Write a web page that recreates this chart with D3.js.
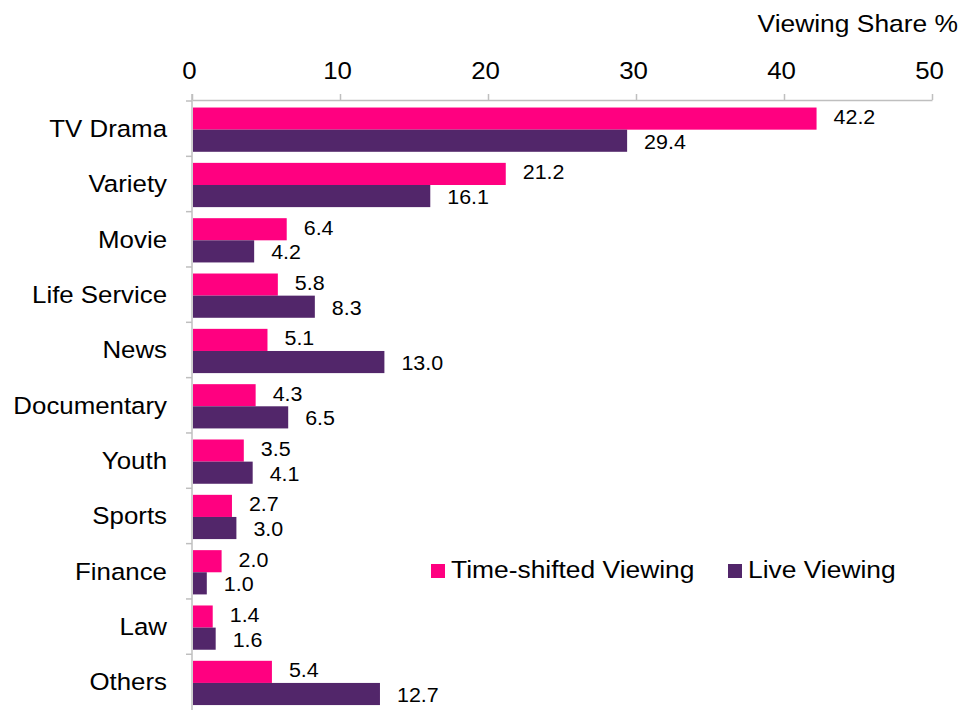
<!DOCTYPE html>
<html>
<head>
<meta charset="utf-8">
<script src="https://cdn.jsdelivr.net/npm/d3@7"></script>
<style>
  body { margin: 0; background: #fff; }
  svg text { font-family: "Liberation Sans", Arial, sans-serif; fill: #000; }
</style>
</head>
<body>
<div id="chart"></div>
<script>
const categories = ["TV Drama", "Variety", "Movie", "Life Service", "News", "Documentary",
    "Youth", "Sports", "Finance", "Law", "Others"];
const series = ["Time-shifted Viewing", "Live Viewing"];
const timeShifted = [42.2, 21.2, 6.4, 5.8, 5.1, 4.3, 3.5, 2.7, 2.0, 1.4, 5.4];
const live = [29.4, 16.1, 4.2, 8.3, 13.0, 6.5, 4.1, 3.0, 1.0, 1.6, 12.7];
const xTicks = [0, 10, 20, 30, 40, 50];
const colors = ["#ff0080", "#52266a"];

const width = 963, height = 710;
const sx = 1.1; // the original text is a little wider than it is tall

// widen text horizontally while keeping its anchor point
function stretch(sel) {
    sel.each(function () {
        const t = d3.select(this);
        const x0 = +t.attr("x") || 0;
        t.attr("x", x0 / sx).attr("transform", `scale(${sx},1)`);
    });
}

const svg = d3.select("#chart")
    .append("svg")
    .attr("width", width)
    .attr("height", height);

const x = d3.scaleLinear()
    .domain([0, 50])
    .range([192, 932]);

const y0 = d3.scaleBand()
    .domain(categories)
    .range([101, 709.6])
    .padding(0);

const y1 = d3.scaleBand()
    .domain(series)
    .range([1, y0.bandwidth() + 1])
    .paddingInner(0)
    .paddingOuter(0.25);

const color = d3.scaleOrdinal().domain(series).range(colors);

const rows = categories.map((c, i) => ({ cat: c, values: [timeShifted[i], live[i]] }));

// top axis
const xAxis = svg.append("g")
    .attr("transform", "translate(0,100)")
    .call(d3.axisTop(x).tickValues(xTicks).tickSize(6).tickSizeOuter(0).tickPadding(15));
xAxis.select(".domain").attr("stroke", "#bfbfbf").attr("stroke-width", 1.5);
xAxis.selectAll(".tick line").attr("stroke", "#bfbfbf").attr("stroke-width", 1.5);
xAxis.selectAll(".tick text")
    .attr("x", -3)
    .attr("font-size", 23.5)
    .attr("font-family", "Liberation Sans, Arial, sans-serif")
    .attr("fill", "#000")
    .call(stretch);

// left axis
const yAxis = svg.append("g")
    .attr("transform", `translate(${x(0)},0)`)
    .call(d3.axisLeft(y0).tickSize(0).tickPadding(25).tickSizeOuter(0));
yAxis.select(".domain").remove();
yAxis.selectAll(".tick text")
    .attr("font-size", 23.5)
    .attr("font-family", "Liberation Sans, Arial, sans-serif")
    .attr("fill", "#000")
    .attr("dy", "0.36em")
    .call(stretch);

svg.append("line")
    .attr("x1", x(0)).attr("x2", x(0))
    .attr("y1", 94).attr("y2", height)
    .attr("stroke", "#bfbfbf").attr("stroke-width", 1.5);

svg.append("g")
    .selectAll("line")
    .data(categories)
    .join("line")
    .attr("x1", x(0) - 6).attr("x2", x(0))
    .attr("y1", d => y0(d)).attr("y2", d => y0(d))
    .attr("stroke", "#bfbfbf").attr("stroke-width", 1.5);

// bars
const groups = svg.append("g")
    .selectAll("g")
    .data(rows)
    .join("g")
    .attr("transform", d => `translate(0,${y0(d.cat)})`);

groups.selectAll("rect")
    .data(d => d.values.map((v, i) => ({ key: series[i], value: v })))
    .join("rect")
    .attr("x", x(0) + 1)
    .attr("y", d => y1(d.key))
    .attr("width", d => x(d.value) - x(0) - 1)
    .attr("height", y1.bandwidth())
    .attr("fill", d => color(d.key));

groups.selectAll("text")
    .data(d => d.values.map((v, i) => ({ key: series[i], value: v })))
    .join("text")
    .attr("x", d => x(d.value) + 17)
    .attr("y", (d, i) => y1(d.key) + y1.bandwidth() / 2 + (i === 0 ? -1.5 : 1))
    .attr("dy", "0.36em")
    .attr("font-size", 19.5)
    .text(d => d.value.toFixed(1))
    .call(stretch);

// axis title
svg.append("text")
    .attr("x", 958)
    .attr("y", 32)
    .attr("text-anchor", "end")
    .attr("font-size", 24)
    .text("Viewing Share %")
    .call(stretch);

// legend
const legendX = [431, 728];
const legend = svg.append("g")
    .selectAll("g")
    .data(series)
    .join("g")
    .attr("transform", (d, i) => `translate(${legendX[i]},564)`);

legend.append("rect")
    .attr("width", 14)
    .attr("height", 14)
    .attr("fill", d => color(d));

legend.append("text")
    .attr("x", 20)
    .attr("y", 14)
    .attr("font-size", 24)
    .text(d => d)
    .call(stretch);
</script>
</body>
</html>
